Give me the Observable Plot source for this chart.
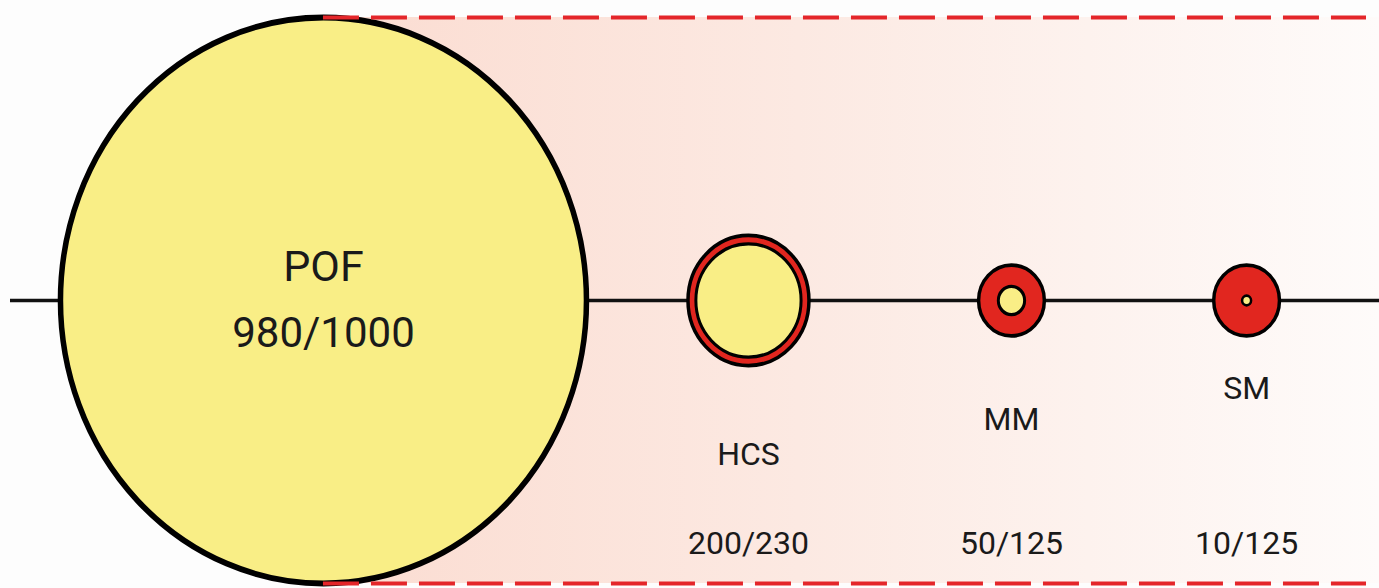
<!DOCTYPE html>
<html>
<head>
<meta charset="utf-8">
<script src="https://cdn.jsdelivr.net/npm/d3@7"></script>
<script src="https://cdn.jsdelivr.net/npm/@observablehq/plot@0.6"></script>
<style>
  html, body { margin: 0; padding: 0; background: #fdfdfd; }
  #chart svg { display: block; background: #fdfdfd; }
  #chart svg circle { transform-box: fill-box; transform-origin: center; transform: scaleY(1.076); }
</style>
</head>
<body>
<div id="chart"></div>
<script>
// Data: optical fibre types, core / cladding diameters (µm)
const fibers = ["POF", "HCS", "MM", "SM"];
const coreDiam = [980, 200, 50, 10];
const cladDiam = [1000, 230, 125, 125];
const sizeLabels = ["980/1000", "200/230", "50/125", "10/125"];

// Layout (not data): centre of each fibre along the strip (µm-scale units), label heights
const centerX = [614, 1422, 1922, 2369];
const pxPerUmX = 0.526, pxPerUmY = 0.566, axisPx = 300;
const toY = px => (axisPx - px) / pxPerUmY;
const nameY = [267, 454, 419, 388].map(toY);
const sizeY = [333, 543, 543, 543].map(toY);

const W = 1379, H = 588;
const xMax = W / pxPerUmX;
const yTop = toY(0), yBot = toY(H);
const minCorePx = 4.5; // smallest drawable core, so the SM core stays visible

const YELLOW = "#f9ee86", RED = "#e1261f";
const FONT = "Roboto, 'Liberation Sans', sans-serif";
const idx = d3.range(fibers.length);
const ringIdx = idx.filter(i => fibers[i] !== "POF");

const plot = Plot.plot({
  width: W, height: H,
  margin: 0,
  x: {domain: [0, xMax], axis: null},
  y: {domain: [yBot, yTop], axis: null},
  r: {type: "linear", domain: [0, 500], range: [0, 500 * pxPerUmX]},
  marks: [
    Plot.rect([0], {x1: centerX[0], x2: xMax, y1: -cladDiam[0] / 2, y2: cladDiam[0] / 2, fill: "url(#bgGrad)"}),
    Plot.ruleY([0], {x1: 10 / pxPerUmX, x2: xMax, stroke: "#111", strokeWidth: 3.5}),
    Plot.dot(idx, {
      x: i => centerX[i], y: 0, r: i => cladDiam[i] / 2,
      fill: i => fibers[i] === "POF" ? YELLOW : RED,
      stroke: "#000", strokeWidth: i => fibers[i] === "POF" ? 5.5 : 3.5
    }),
    Plot.dot(ringIdx, {
      x: i => centerX[i], y: 0, r: i => Math.max(coreDiam[i] / 2, minCorePx / pxPerUmX),
      fill: YELLOW, stroke: "#000", strokeWidth: i => fibers[i] === "SM" ? 2.5 : 3
    }),
    Plot.ruleY([cladDiam[0] / 2, -cladDiam[0] / 2], {x1: centerX[0], x2: 1366 / pxPerUmX, stroke: "#e4262a", strokeWidth: 4, strokeDasharray: "36 12"}),
    Plot.text(idx, {
      x: i => centerX[i], y: i => nameY[i], text: i => fibers[i],
      fontFamily: FONT, fontSize: i => fibers[i] === "POF" ? 43 : 32, fill: "#1a1a1a"
    }),
    Plot.text(idx, {
      x: i => centerX[i], y: i => sizeY[i], text: i => sizeLabels[i],
      fontFamily: FONT, fontSize: i => fibers[i] === "POF" ? 42 : 32, fill: "#1a1a1a"
    })
  ]
});

// gradient definition for the pink band
const svg = d3.select(plot);
const defs = svg.insert("defs", ":first-child");
const g = defs.append("linearGradient").attr("id", "bgGrad").attr("x1", "0").attr("x2", "1").attr("y1", "0").attr("y2", "0");
g.append("stop").attr("offset", "0%").attr("stop-color", "#fbdcd1");
g.append("stop").attr("offset", "45%").attr("stop-color", "#fce9e2");
g.append("stop").attr("offset", "100%").attr("stop-color", "#fefbfa");

document.getElementById("chart").appendChild(plot);
</script>
</body>
</html>
